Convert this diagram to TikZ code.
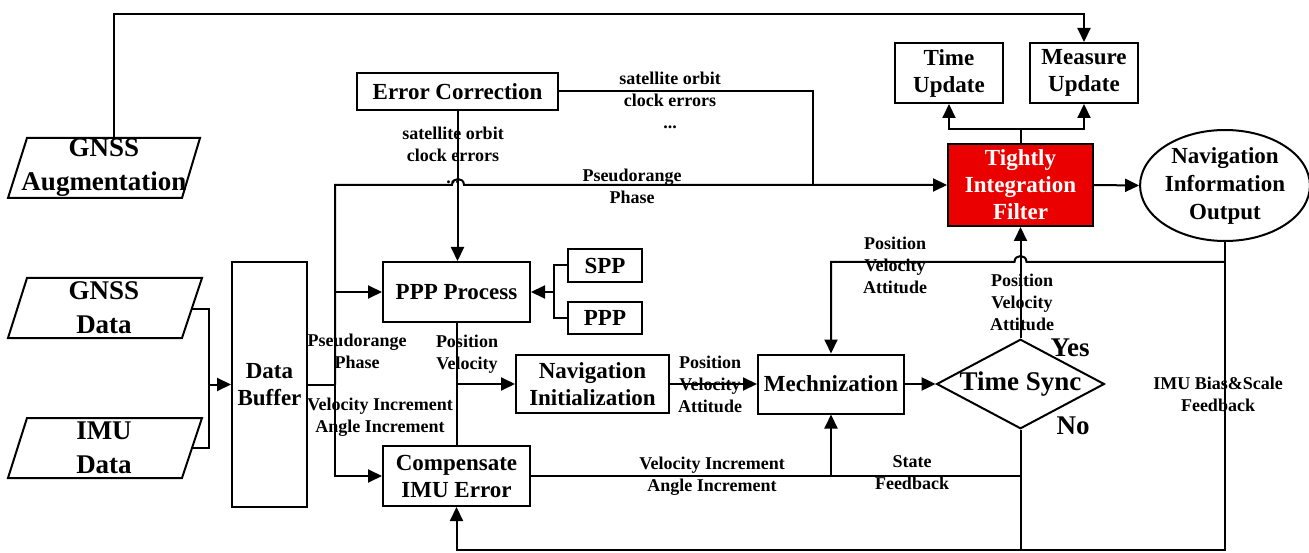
\documentclass[tikz,border=0pt]{standalone}
\usepackage{fontspec}
\setmainfont{Liberation Serif}
\usetikzlibrary{arrows.meta,shapes.geometric,calc}
\definecolor{filtred}{RGB}{235,0,0}
\begin{document}
\begin{tikzpicture}[x=1pt,y=-1pt, line width=2pt,
  >={Triangle[length=14pt,width=13pt]},
  box/.style={draw, line width=2pt, inner sep=0pt, align=center, font=\bfseries\fontsize{23}{27}\selectfont},
  bigtxt/.style={inner sep=0pt, align=center, font=\bfseries\fontsize{27}{34}\selectfont},
  lbl/.style={inner sep=0pt, align=center, font=\bfseries\fontsize{18}{22}\selectfont},
  para/.style={line width=2pt}
]
\useasboundingbox (0,0) rectangle (1309,553);

% parallelograms (input data)
\draw[para] (27,138) -- (200,138) -- (182,198) -- (8,198) -- cycle;
\node[bigtxt] (aug) at (104,168) {GNSS\\Augmentation};
\draw[para] (27,278) -- (202,278) -- (182,338) -- (8,338) -- cycle;
\node[bigtxt] (gd) at (104,308) {GNSS\\Data};
\draw[para] (27,418) -- (202,418) -- (182,478) -- (8,478) -- cycle;
\node[bigtxt] (imu) at (104,448) {IMU\\Data};
\coordinate (augT) at (114,138);
\coordinate (gdR) at (192,309);
\coordinate (imR) at (192,448);
\coordinate (jn) at (209,384.5);

% boxes
\node[box, minimum width=75pt, minimum height=245pt] (db) at (269.5,384.5) {Data\\Buffer};
\node[box, minimum width=201pt, minimum height=37pt] (ec) at (457.5,91.5) {Error Correction};
\node[box, minimum width=147pt, minimum height=60pt] (pp) at (456.5,292) {PPP Process};
\node[box, minimum width=147pt, minimum height=60pt] (comp) at (456.5,476) {Compensate\\IMU Error};
\node[box, minimum width=74pt, minimum height=33pt] (spp) at (605,265.5) {SPP};
\node[box, minimum width=74pt, minimum height=32pt] (ppp) at (605,318) {PPP};
\node[box, minimum width=153pt, minimum height=58pt] (ni) at (592.5,384) {Navigation\\Initialization};
\node[box, minimum width=146pt, minimum height=59pt] (mech) at (831,384) {Mechnization};
\node[draw, diamond, aspect=1.875, inner sep=0pt, line width=2pt, font=\bfseries\fontsize{27}{30}\selectfont] (ts) at (1020.5,384) {Time Sync};
\node[box, fill=filtred, text=white, minimum width=145pt, minimum height=82pt] (filt) at (1020.5,185) {Tightly\\Integration\\Filter};
\node[draw, ellipse, inner sep=0pt, line width=2pt, minimum width=166pt, minimum height=111pt, align=center, font=\bfseries\fontsize{23}{28}\selectfont] (nav) at (1225,185.5) {Navigation\\Information\\Output};
\node[box, minimum width=108pt, minimum height=60pt] (tu) at (949,73) {Time\\Update};
\node[box, minimum width=108pt, minimum height=60pt] (mu) at (1084,73) {Measure\\Update};

\coordinate (bus) at (335,384.5);
\coordinate (sj) at (554,292);
\coordinate (ecj) at (813,185);
\coordinate (pv) at (1225,262);
\coordinate (bl) at (456.5,550);

% connectors
\draw[->] (augT) -- ++(0,-124) -| (mu.north);
\draw (gdR) -| (jn);
\draw (imR) -| (jn);
\draw[->] (jn) -- (db.west);
\draw (db.east) -- (bus);
\draw[->] (bus) |- (pp.west);
\draw[->] (bus) |- (comp.west);
\draw[->] (bus) -- (335,185) -- (452,185) .. controls (452,177) and (464,177) .. (464,185) -- (filt.west);
\draw (ec.east) -| (ecj);
\draw[->] (ec.south) -- (ec.south |- pp.north);
\draw (pp.south) -- (comp.north);
\draw[->] (pp.south |- ni.west) -- (ni.west);
\draw (spp.west) -| (sj);
\draw (ppp.west) -| (sj);
\draw[->] (sj) -- (pp.east);
\draw[->] (ni.east) -- (mech.west);
\draw[->] (mech.east) -- (ts.west);
\draw[->] (ts.north) -- (filt.south);
\draw[->] (filt.east) -- (nav.west);
\draw (filt.north) -- ++(0,-14) coordinate (fb);
\draw[->] (fb) -| (tu.south);
\draw[->] (fb) -| (mu.south);
\draw[->] (nav.south) |- (bl) -- (comp.south);
\draw[->] (pv) -- (1026.5,262) .. controls (1026.5,254) and (1014.5,254) .. (1014.5,262) -| (mech.north);
\draw (ts.south) -- (ts.south |- bl);
\draw (comp.east) -- (comp.east -| ts.south);
\draw[->] (comp.east -| mech.south) -- (mech.south);

% labels
\node[lbl] (l1) at (670,100) {satellite orbit\\clock errors\\...};
\node[lbl] (l2) at (453,155) {satellite orbit\\clock errors\\...};
\node[lbl] (l3) at (632,186) {Pseudorange\\Phase};
\node[lbl] (l4) at (357,351) {Pseudorange\\Phase};
\node[lbl] (l5) at (380,417) {Velocity Increment\\Angle Increment};
\node[lbl] (l6) at (467,354) {Position\\Velocity};
\node[lbl] (l7) at (710,384) {Position\\Velocity\\Attitude};
\node[lbl] (l8) at (712,476) {Velocity Increment\\Angle Increment};
\node[lbl] (l9) at (912,473) {State\\Feedback};
\node[lbl] (l10) at (895,265) {Position\\Velocity\\Attitude};
\node[lbl] (l11) at (1022,302) {Position\\Velocity\\Attitude};
\node[lbl] (l12) at (1218,394) {IMU Bias\&Scale\\Feedback};
\node[bigtxt] (yes) at (1070,348) {Yes};
\node[bigtxt] (no) at (1073,426) {No};
\end{tikzpicture}
\end{document}
